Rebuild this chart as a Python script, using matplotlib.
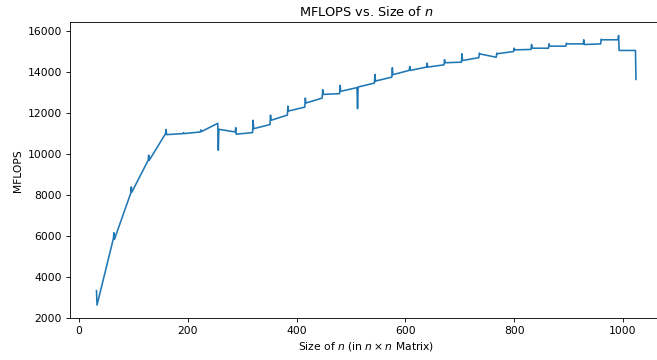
import matplotlib
matplotlib.use("Agg")
import matplotlib.pyplot as plt

# matrix sizes sampled around every multiple of 32
sizes = [
    32, 33,
    63, 64, 65, 95, 96, 97, 127, 128, 129, 159, 160, 161,
    191, 192, 193, 223, 224, 225, 255, 256, 257, 287, 288, 289,
    319, 320, 321, 351, 352, 353, 383, 384, 385, 415, 416, 417,
    447, 448, 449, 479, 480, 481, 511, 512, 513, 543, 544, 545,
    575, 576, 577, 607, 608, 609, 639, 640, 641, 671, 672, 673,
    703, 704, 705, 735, 736, 737, 767, 768, 769, 799, 800, 801,
    831, 832, 833, 863, 864, 865, 895, 896, 897, 927, 928, 929,
    959, 960, 961, 991, 992, 993, 1023, 1024,
]

mflops = [
    3350, 2650,
    5880, 6170, 5850, 8100, 8400, 8150, 9700, 9950, 9700, 11000, 11200, 10950,
    11000, 11050, 11000, 11080, 11180, 11100, 11500, 10190, 11210, 11080, 11290, 10970,
    11050, 11650, 11240, 11440, 11900, 11650, 11900, 12340, 12100, 12290, 12730, 12490,
    12730, 13140, 12910, 12945, 13350, 13060, 13240, 12215, 13270, 13460, 13880, 13560,
    13750, 14210, 13870, 14080, 14270, 14080, 14240, 14430, 14240, 14350, 14600, 14450,
    14480, 14890, 14560, 14700, 14920, 14880, 14720, 14920, 14890, 15000, 15160, 15080,
    15100, 15340, 15160, 15160, 15375, 15260, 15260, 15400, 15370, 15370, 15570, 15340,
    15370, 15600, 15570, 15570, 15780, 15050, 15050, 13640,
]

DPI = 77


def main():
    fig = plt.figure(figsize=(657 / DPI, 360 / DPI), dpi=DPI)
    ax = fig.add_axes([0.1058, 0.1153, 0.9033, 0.8236])

    ax.plot(sizes, mflops, color="#1f77b4", linewidth=1.5)

    ax.set_title("MFLOPS vs. Size of $n$")
    ax.set_xlabel("Size of $n$ (in $n \\times n$ Matrix)")
    ax.set_ylabel("MFLOPS")

    fig.savefig("out.png", dpi=DPI)
    plt.close(fig)


if __name__ == "__main__":
    main()
